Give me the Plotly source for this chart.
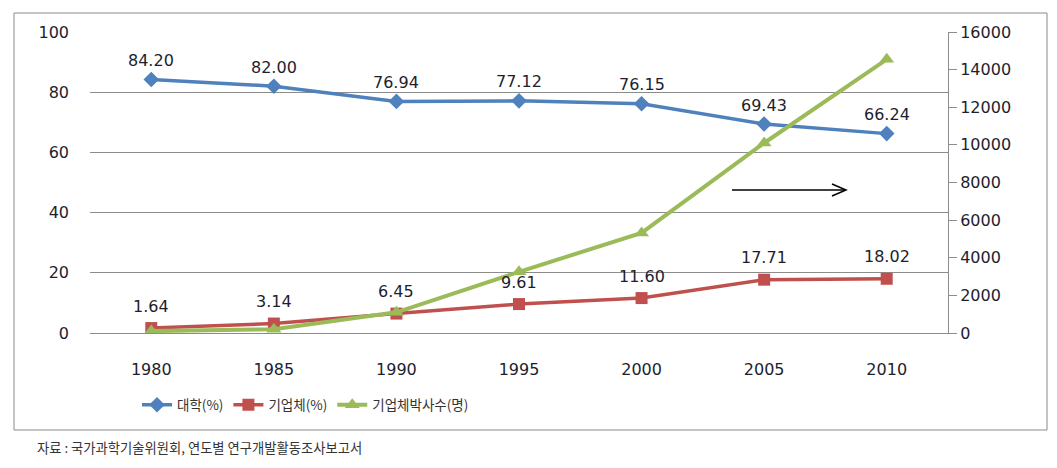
import plotly.graph_objects as go

years = ["1980", "1985", "1990", "1995", "2000", "2005", "2010"]
university_pct = [84.20, 82.00, 76.94, 77.12, 76.15, 69.43, 66.24]
company_pct = [1.64, 3.14, 6.45, 9.61, 11.60, 17.71, 18.02]
company_phd = [100, 200, 1100, 3250, 5320, 10100, 14550]

names = ["대학(%)", "기업체(%)", "기업체박사수(명)"]
left_ticks = [0, 20, 40, 60, 80, 100]
right_ticks = [0, 2000, 4000, 6000, 8000, 10000, 12000, 14000, 16000]

W, H = 1057, 468
L, R, T, B = 90, 109, 32, 135
PW, PH = W - L - R, H - T - B


def px(x):
    return (x - L) / PW


def py(y):
    return (H - B - y) / PH


BLUE = "#4f81bd"
RED = "#c0504d"
GREEN = "#9bbb59"
GRID = "#8c8c8c"
TXT = "#1e1e2e"
FONT = "DejaVu Sans"
KFONT = "Noto Sans CJK KR"

fig = go.Figure()
fig.add_trace(go.Scatter(x=years, y=university_pct, name=names[0], mode="lines+markers",
                         line=dict(color=BLUE, width=3.5),
                         marker=dict(symbol="diamond", size=12, color=BLUE)))
fig.add_trace(go.Scatter(x=years, y=company_pct, name=names[1], mode="lines+markers",
                         line=dict(color=RED, width=3.5),
                         marker=dict(symbol="square", size=12, color=RED)))
fig.add_trace(go.Scatter(x=years, y=company_phd, name=names[2], mode="lines+markers",
                         yaxis="y2",
                         line=dict(color=GREEN, width=4),
                         marker=dict(symbol="triangle-up", size=13, color=GREEN)))

annotations = []
for i, yv in enumerate(university_pct):
    annotations.append(dict(x=i, y=yv, xref="x", yref="y", text=f"{yv:.2f}",
                            showarrow=False, yshift=19,
                            font=dict(family=FONT, size=16, color=TXT)))
for i, yv in enumerate(company_pct):
    annotations.append(dict(x=i, y=yv, xref="x", yref="y", text=f"{yv:.2f}",
                            showarrow=False, yshift=22,
                            font=dict(family=FONT, size=16, color=TXT)))
annotations.append(dict(x=px(35), y=py(447), xref="paper", yref="paper",
                        xanchor="left", yanchor="middle", showarrow=False,
                        text="자료 : 국가과학기술위원회, 연도별 연구개발활동조사보고서",
                        font=dict(family=KFONT, size=13.3, color="#333333")))

shapes = [
    dict(type="rect", xref="paper", yref="paper", x0=px(14), x1=px(1047), y0=py(430), y1=py(13),
         line=dict(color="#8a8a8a", width=1), layer="below"),
    dict(type="line", xref="paper", yref="paper", x0=px(732), x1=px(845), y0=py(190), y1=py(190),
         line=dict(color="black", width=1.5)),
    dict(type="path", xref="paper", yref="paper",
         path=f"M {px(832)} {py(184)} L {px(846)} {py(190)} L {px(832)} {py(196)}",
         line=dict(color="black", width=1.5)),
]

fig.update_layout(
    width=W, height=H, autosize=False,
    margin=dict(l=L, r=R, t=T, b=B),
    paper_bgcolor="white", plot_bgcolor="white",
    showlegend=True,
    legend=dict(orientation="h", x=px(137), y=py(405), xanchor="left", yanchor="middle",
                font=dict(family=KFONT, size=13.5, color="#333333"),
                bgcolor="rgba(0,0,0,0)", itemwidth=30),
    xaxis=dict(type="category", range=[-0.5, 6.5], showgrid=False, zeroline=False,
               showline=True, linecolor=GRID, linewidth=1, ticks="",
               ticklabelstandoff=22,
               tickfont=dict(family=FONT, size=16, color=TXT)),
    yaxis=dict(range=[0, 100], tickvals=left_ticks, showgrid=True, gridcolor=GRID, gridwidth=1,
               zeroline=False, showline=False, ticks="", ticklabelstandoff=20,
               tickfont=dict(family=FONT, size=16, color=TXT)),
    yaxis2=dict(range=[0, 16000], tickvals=right_ticks, tickformat="d", overlaying="y", side="right",
                showgrid=False, zeroline=False, showline=True, linecolor=GRID, linewidth=1,
                ticks="outside", ticklen=8, tickcolor=GRID,
                tickfont=dict(family=FONT, size=16, color=TXT)),
    annotations=annotations,
    shapes=shapes,
)

fig.write_html("out.html")
